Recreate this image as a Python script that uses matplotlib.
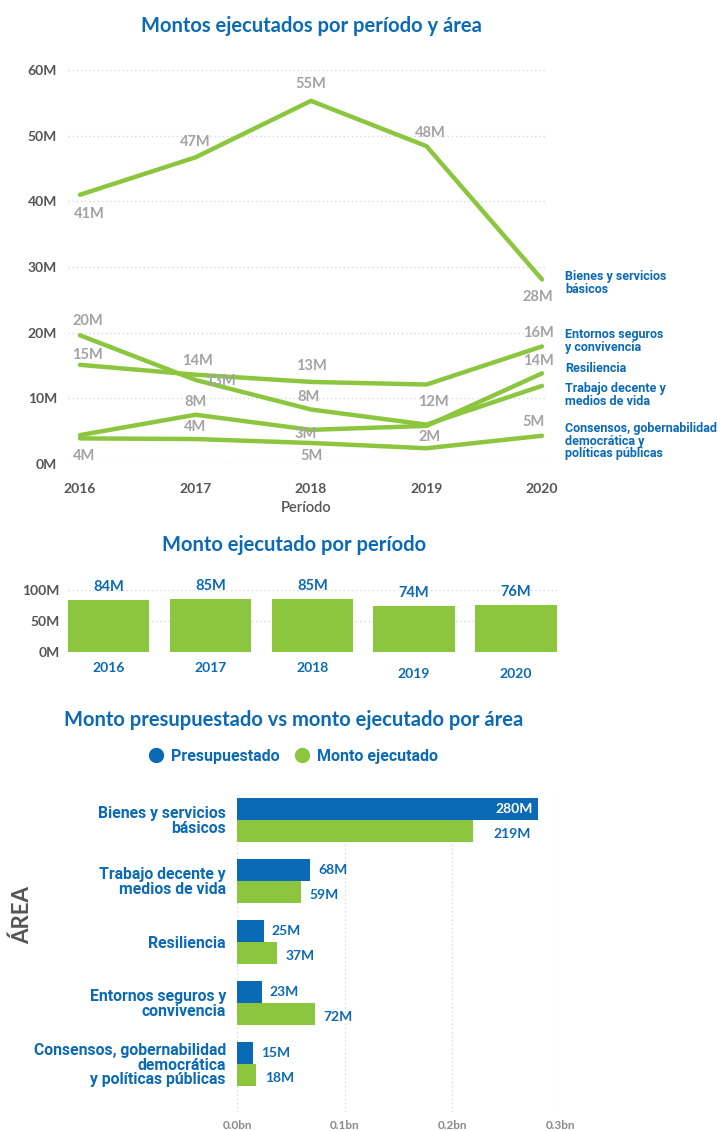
import matplotlib
matplotlib.use("Agg")
import matplotlib.pyplot as plt
from matplotlib.lines import Line2D

# --- data -------------------------------------------------------------
years = [2016, 2017, 2018, 2019, 2020]

areas = ["Bienes y servicios básicos", "Entornos seguros y convivencia",
         "Resiliencia", "Trabajo decente y medios de vida",
         "Consensos, gobernabilidad democrática y políticas públicas"]
bienes = [41.0, 46.7, 55.3, 48.4, 28.1]
entornos = [15.1, 13.6, 12.5, 12.1, 17.9]
resiliencia = [4.4, 7.5, 5.2, 5.8, 13.8]
trabajo = [19.6, 12.8, 8.3, 6.0, 11.9]
consensos = [3.9, 3.8, 3.2, 2.4, 4.3]

# point labels as printed on the chart (None = not shown)
lbl_bienes = ["41M", "47M", "55M", "48M", "28M"]
lbl_entornos = ["15M", "14M", "13M", "12M", "16M"]
lbl_resiliencia = [None, "8M", "3M", None, "14M"]
lbl_trabajo = ["20M", "13M", "8M", None, None]
lbl_consensos = ["4M", "4M", "5M", "2M", "5M"]

end_names = ["Bienes y servicios\nbásicos", "Entornos seguros\ny convivencia",
             "Resiliencia", "Trabajo decente y\nmedios de vida",
             "Consensos, gobernabilidad\ndemocrática y\npolíticas públicas"]

total_years = ["2016", "2017", "2018", "2019", "2020"]
total_amount = [84, 85, 85, 74, 76]

area_names = ["Bienes y servicios\nbásicos", "Trabajo decente y\nmedios de vida",
              "Resiliencia", "Entornos seguros y\nconvivencia",
              "Consensos, gobernabilidad\ndemocrática\ny políticas públicas"]
presupuestado = [280, 68, 25, 23, 15]
ejecutado = [219, 59, 37, 72, 18]

# --- style ------------------------------------------------------------
BLUE = "#0b6ab5"
GREEN = "#8cc63f"
GRAY = "#a3a3a3"
DARK = "#555555"
GRID = "#d9d9d9"
plt.rcParams["font.family"] = ["Lato", "DejaVu Sans"]
COND = ["Roboto", "DejaVu Sans"]

W, H = 721, 1131
fig = plt.figure(figsize=(W / 100, H / 100), dpi=100)

def box(x0, y0, x1, y1):
    # pixel box (top-left origin) -> figure fraction
    return [x0 / W, 1 - y1 / H, (x1 - x0) / W, (y1 - y0) / H]

def px(v):
    return v * 0.72

# --- 1. line chart ----------------------------------------------------
ax1 = fig.add_axes(box(68, 70, 545, 464))
fig.text(311 / W, 1 - 26 / H, "Montos ejecutados por período y área",
         ha="center", va="center", color=BLUE, fontsize=14.5, fontweight="bold")

series = [bienes, entornos, resiliencia, trabajo, consensos]
labels = [lbl_bienes, lbl_entornos, lbl_resiliencia, lbl_trabajo, lbl_consensos]
# label offsets in pixels (dx, dy) per point
offs = [
    [(9, -19), (0, 15), (0, 17), (4, 13), (-4, -18)],
    [(7, 10), (2, 14), (0, 16), (7, -17), (-4, 13)],
    [(0, 0), (0, 13), (-5, -4), (0, 0), (-4, 12)],
    [(8, 14), (25, -1), (-3, 12), (0, 0), (0, 0)],
    [(4, -18), (0, 12), (0, -13), (3, 11), (-9, 14)],
]
for vals, labs, off in zip(series, labels, offs):
    ax1.plot(years, vals, color=GREEN, lw=3.2, solid_capstyle="round",
             clip_on=False, zorder=3)
    for x, y, t, (dx, dy) in zip(years, vals, labs, off):
        if t is None:
            continue
        ax1.annotate(t, (x, y), xytext=(px(dx), px(dy)), textcoords="offset points",
                     ha="center", va="center", color=GRAY, fontsize=10.5,
                     fontweight="bold", zorder=4)

end_y = [27.6, 18.7, 14.6, 10.5, 3.5]
for name, y in zip(end_names, end_y):
    ax1.annotate(name, (2020, y), xytext=(px(23), 0), textcoords="offset points",
                 ha="left", va="center", color=BLUE, fontsize=9,
                 fontweight="bold", family=COND, linespacing=0.95,
                 annotation_clip=False)

ax1.set_xlim(2016 - 12 / 115.5, 2020 + 3 / 115.5)
ax1.set_ylim(0, 60)
ax1.set_yticks(range(0, 61, 10))
ax1.set_yticklabels([f"{v}M" for v in range(0, 61, 10)])
ax1.set_xticks(years)
ax1.set_xticklabels([str(y) for y in years])
ax1.yaxis.grid(True, ls=(0, (1, 2)), color=GRID, lw=1)
ax1.tick_params(length=0, labelsize=10, labelcolor=DARK, pad=8)
ax1.tick_params(axis="x", pad=14)
for t in ax1.get_xticklabels() + ax1.get_yticklabels():
    t.set_fontweight("bold")
for s in ax1.spines.values():
    s.set_visible(False)
ax1.set_xlabel("Período", color=DARK, fontsize=10.5, fontweight="semibold", labelpad=4)

# --- 2. totals bar chart ---------------------------------------------
ax2 = fig.add_axes(box(68, 590, 556.6, 652))
fig.text(294 / W, 1 - 545 / H, "Monto ejecutado por período",
         ha="center", va="center", color=BLUE, fontsize=14.5, fontweight="bold")
xs = range(len(total_years))
bars = ax2.bar(xs, total_amount, width=0.8, color=GREEN, zorder=3)
for b, v in zip(bars, total_amount):
    ax2.annotate(f"{v}M", (b.get_x() + b.get_width() / 2, v), xytext=(0, px(13)),
                 textcoords="offset points", ha="center", va="center",
                 color=BLUE, fontsize=10.5, fontweight="bold", annotation_clip=False)
year_drop = [16, 16, 16, 22, 22]
for i, (yr, d) in enumerate(zip(total_years, year_drop)):
    ax2.annotate(yr, (i, 0), xytext=(0, -px(d)), textcoords="offset points",
                 ha="center", va="center", color=BLUE, fontsize=10,
                 fontweight="bold", annotation_clip=False)
ax2.set_xlim(-0.4, 4.4)
ax2.set_ylim(0, 100)
ax2.set_xticks([])
ax2.set_yticks([0, 50, 100])
ax2.set_yticklabels(["0M", "50M", "100M"])
ax2.yaxis.grid(True, ls=(0, (1, 2)), color=GRID, lw=1)
ax2.tick_params(length=0, labelsize=10, labelcolor=DARK, pad=6)
for t in ax2.get_yticklabels():
    t.set_fontweight("bold")
for s in ax2.spines.values():
    s.set_visible(False)

# --- 3. budget vs executed by area -----------------------------------
ax3 = fig.add_axes(box(237, 795, 560, 1112))
fig.text(294 / W, 1 - 720 / H, "Monto presupuestado vs monto ejecutado por área",
         ha="center", va="center", color=BLUE, fontsize=14.5, fontweight="bold")
handles = [Line2D([], [], ls="", marker="o", ms=10, color=BLUE),
           Line2D([], [], ls="", marker="o", ms=10, color=GREEN)]
leg = fig.legend(handles, ["Presupuestado", "Monto ejecutado"], loc="center",
                 bbox_to_anchor=(293 / W, 1 - 756 / H), ncol=2, frameon=False,
                 handletextpad=0.45, columnspacing=0.9, handlelength=1.0,
                 prop={"family": COND, "weight": "bold", "size": 11.5})
for t in leg.get_texts():
    t.set_color(BLUE)

ys = list(range(len(area_names)))
h = 0.36
ax3.barh([y - h / 2 for y in ys], presupuestado, height=h, color=BLUE, zorder=3)
ax3.barh([y + h / 2 for y in ys], ejecutado, height=h, color=GREEN, zorder=3)
for y, p, e in zip(ys, presupuestado, ejecutado):
    if p > 250:
        ax3.annotate(f"{p}M", (p, y - h / 2), xytext=(-px(6), 0), textcoords="offset points",
                     ha="right", va="center", color="white", fontsize=10, fontweight="bold")
        ax3.annotate(f"{e}M", (p, y + h / 2), xytext=(-px(8), -px(3)), textcoords="offset points",
                     ha="right", va="center", color=BLUE, fontsize=10, fontweight="bold")
    else:
        ax3.annotate(f"{p}M", (p, y - h / 2), xytext=(px(8), 0), textcoords="offset points",
                     ha="left", va="center", color=BLUE, fontsize=10, fontweight="bold")
        ax3.annotate(f"{e}M", (e, y + h / 2), xytext=(px(9), -px(3)), textcoords="offset points",
                     ha="left", va="center", color=BLUE, fontsize=10, fontweight="bold")
ax3.set_ylim(4.79, -0.41)
ax3.set_xlim(0, 300)
ax3.set_yticks(ys)
ax3.set_yticklabels(area_names, color=BLUE, fontsize=11.3, fontweight="bold",
                    family=COND, linespacing=0.95)
ax3.set_xticks([0, 100, 200, 300])
ax3.set_xticklabels(["0.0bn", "0.1bn", "0.2bn", "0.3bn"], color="#8a8a8a",
                    fontsize=8.5, fontweight="bold")
ax3.xaxis.grid(True, ls=(0, (1, 2)), color=GRID, lw=1)
ax3.set_axisbelow(True)
ax3.tick_params(length=0, pad=8)
ax3.tick_params(axis="x", pad=6)
for s in ax3.spines.values():
    s.set_visible(False)
fig.text(22 / W, 1 - 915 / H, "ÁREA", rotation=90, ha="center", va="center",
         color=DARK, fontsize=16, fontweight="bold")

fig.savefig("out.png", dpi=100)
